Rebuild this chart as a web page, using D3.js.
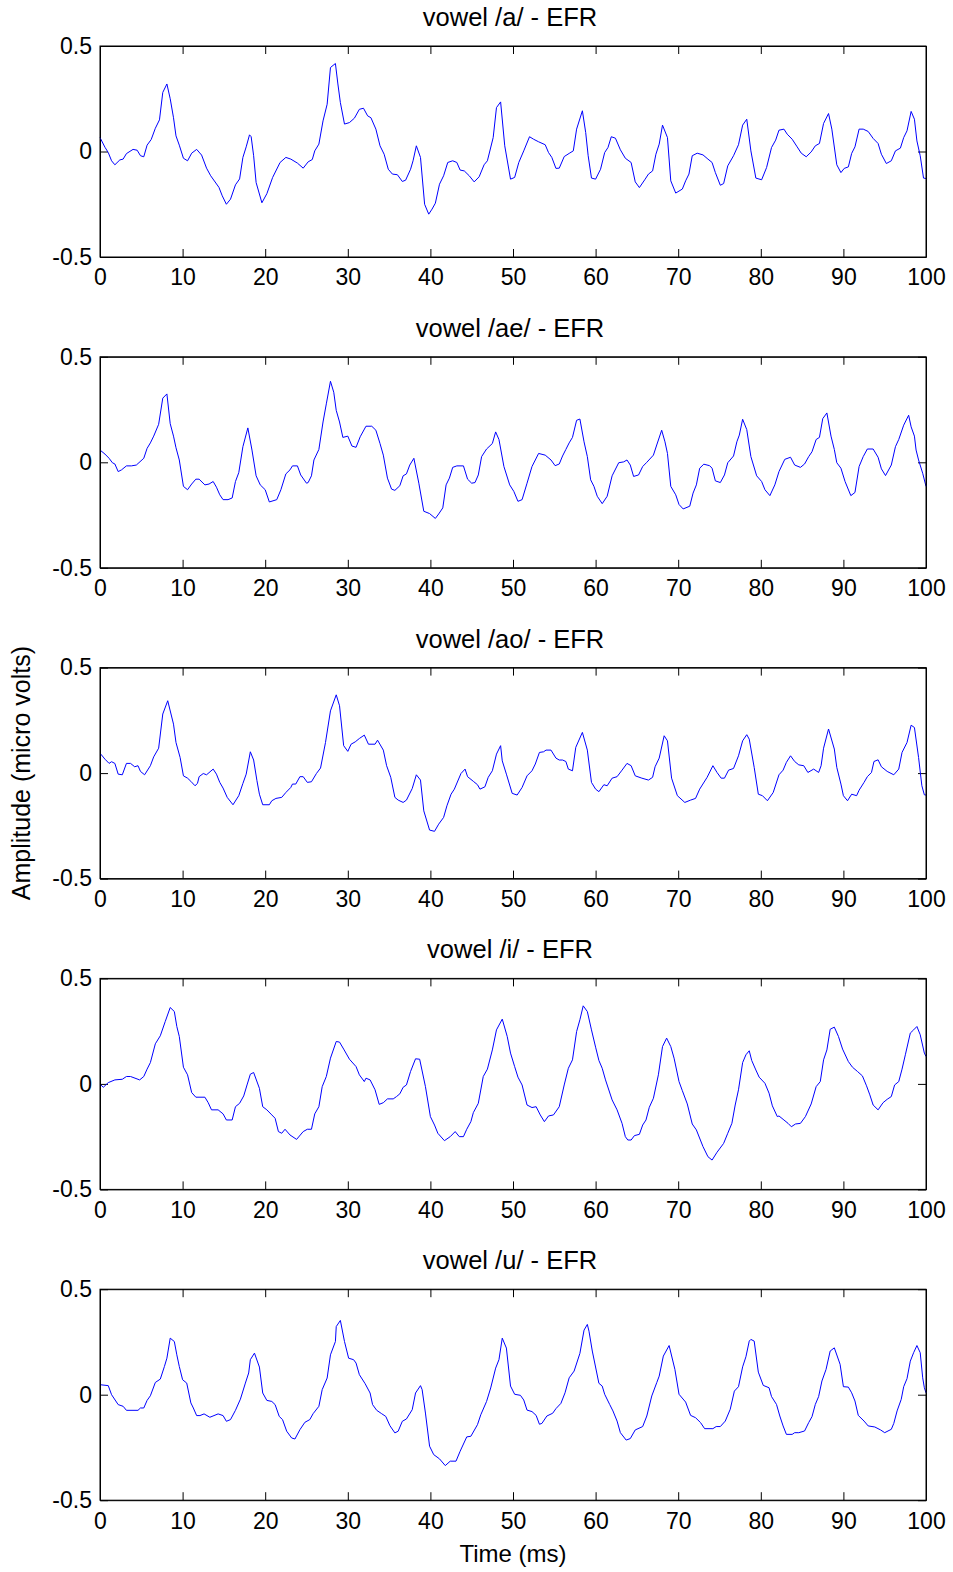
<!DOCTYPE html>
<html lang="en">
<head>
<meta charset="UTF-8">
<title>EFR</title>
<script src="https://d3js.org/d3.v7.min.js"></script>
<style>
    body { margin: 0; background: #fff; }
    text { font-family: "Liberation Sans", Arial, sans-serif; }
</style>
</head>
<body>
<div id="chart"></div>
<script>
    // panel titles and ticks
    var titles = ["vowel /a/ - EFR", "vowel /ae/ - EFR", "vowel /ao/ - EFR", "vowel /i/ - EFR", "vowel /u/ - EFR"];
    var xTicks = [0, 10, 20, 30, 40, 50, 60, 70, 80, 90, 100];
    var yTicks = [-0.5, 0, 0.5];

    // [time (ms), amplitude (micro volts)]
    var vowelA = [[0,.066],[0.6,.02],[1.0,-.005],[1.4,-.044],[1.8,-.063],[2.4,-.04],[2.8,-.036],[3.2,-.01],[4.0,.01],[4.5,.006],[4.9,-.02],[5.3,-.025],[5.7,.03],[6.2,.057],[6.7,.11],[7.2,.15],[7.6,.28],[8.1,.32],[8.5,.25],[8.9,.16],[9.2,.074],[9.6,.03],[10.1,-.032],[10.6,-.044],[11.1,-.008],[11.7,.01],[12.3,-.017],[12.9,-.079],[13.4,-.115],[14.4,-.17],[14.8,-.21],[15.3,-.25],[15.8,-.226],[16.4,-.158],[16.9,-.13],[17.3,-.028],[17.7,.022],[18.1,.079],[18.3,.07],[18.6,-.02],[18.9,-.147],[19.6,-.243],[20.2,-.2],[20.9,-.123],[21.8,-.052],[22.5,-.028],[23.1,-.036],[23.9,-.055],[24.6,-.079],[25.2,-.049],[25.7,-.038],[26.0,.003],[26.5,.035],[27.0,.145],[27.5,.224],[27.9,.398],[28.5,.417],[28.8,.32],[29.1,.232],[29.6,.13],[30.2,.137],[30.8,.158],[31.4,.2],[31.9,.205],[32.4,.169],[32.8,.16],[33.4,.106],[33.9,.027],[34.4,-.013],[34.9,-.084],[35.4,-.107],[36.0,-.11],[36.6,-.142],[37.0,-.136],[37.6,-.084],[37.9,-.044],[38.3,.027],[38.8,-.028],[39.3,-.25],[39.8,-.297],[40.2,-.273],[40.6,-.245],[41.1,-.155],[41.6,-.115],[42.1,-.052],[42.7,-.044],[43.2,-.052],[43.6,-.088],[44.1,-.092],[44.7,-.115],[45.3,-.144],[45.9,-.12],[46.5,-.063],[46.9,-.044],[47.6,.066],[48.0,.208],[48.5,.235],[49.0,.027],
        [49.7,-.131],[50.2,-.123],[50.7,-.052],[51.3,.003],[52.0,.07],[52.5,.058],[53.1,.046],[53.9,.032],[54.3,-.005],[54.7,-.028],[55.2,-.08],[55.6,-.079],[56.2,-.024],[56.8,-.009],[57.3,.003],[57.7,.106],[58.4,.193],[58.8,.09],[59.1,-.02],[59.5,-.126],[60.0,-.131],[60.6,-.084],[61.1,-.005],[61.5,.019],[61.9,.07],[62.4,.063],[63.0,.008],[63.6,-.032],[64.3,-.052],[64.8,-.144],[65.3,-.171],[66.0,-.131],[66.4,-.107],[66.9,-.092],[67.3,-.013],[67.7,.035],[68.1,.125],[68.7,.066],[69.1,-.139],[69.7,-.197],[70.5,-.178],[70.9,-.139],[71.3,-.107],[71.7,-.02],[72.3,-.008],[73.0,-.016],[73.6,-.036],[74.1,-.052],[74.5,-.1],[75.1,-.16],[75.5,-.152],[76.0,-.068],[76.7,-.02],[77.3,.032],[77.8,.125],[78.3,.153],[78.8,.003],[79.4,-.126],[80.1,-.134],[80.7,-.076],[81.3,.019],[81.8,.054],[82.2,.101],[82.8,.106],[83.2,.082],[83.8,.058],[84.4,.022],[84.9,-.008],[85.5,-.025],[86.1,-.002],[86.6,.027],[87.1,.038],[87.6,.133],[88.2,.18],[88.6,.106],[89.2,-.063],[89.7,-.1],[90.1,-.08],[90.6,-.073],[91.0,-.009],[91.4,.022],[91.9,.106],[92.4,.106],[93.0,.095],[93.6,.062],[94.2,.038],[94.6,-.013],[95.2,-.057],[95.8,-.044],[96.3,.003],[96.9,.016],[97.3,.066],[97.7,.098],[98.2,.19],[98.6,.153],[98.9,.05],[99.3,-.02],[99.7,-.126],[100,-.128]];

    var vowelAE = [[0.1,.055],[0.6,.039],[1.1,.019],[1.5,-.002],[1.8,-.008],[2.2,-.044],[2.6,-.036],[3.2,-.017],[3.8,-.017],[4.4,-.013],[5.3,.019],[5.7,.066],[6.1,.092],[6.5,.124],[7.1,.18],[7.6,.304],[8.1,.324],[8.5,.183],[8.9,.124],[9.2,.069],[9.6,.011],[10.1,-.114],[10.6,-.13],[11.1,-.103],[11.6,-.08],[12.0,-.08],[12.7,-.107],[13.2,-.103],[13.7,-.091],[14.1,-.118],[14.5,-.154],[14.9,-.177],[15.5,-.177],[16.0,-.169],[16.4,-.091],[16.8,-.049],[17.3,.074],[17.9,.163],[18.4,.058],[18.9,-.064],[19.4,-.107],[20.0,-.13],[20.5,-.188],[21.4,-.177],[21.9,-.13],[22.5,-.055],[23.0,-.036],[23.3,-.017],[23.9,-.017],[24.3,-.06],[25.0,-.099],[25.2,-.096],[25.6,-.064],[25.9,.011],[26.5,.061],[27.0,.191],[27.4,.277],[27.9,.384],[28.3,.332],[28.6,.246],[29.0,.191],[29.4,.118],[30.0,.124],[30.5,.077],[31.0,.071],[31.5,.121],[32.2,.171],[32.9,.171],[33.4,.152],[33.9,.089],[34.3,.034],[34.8,-.075],[35.3,-.127],[35.7,-.133],[36.3,-.111],[36.7,-.064],[37.1,-.055],[37.5,-.013],[38.0,.019],[38.6,-.099],[39.2,-.232],[39.9,-.243],[40.6,-.266],[41.0,-.245],[41.5,-.216],[41.9,-.107],[42.3,-.075],[42.7,-.024],[43.2,-.017],[44.0,-.017],[44.5,-.08],[45.0,-.099],[45.4,-.096],[45.8,-.06],[46.2,.027],[46.8,.063],[47.5,.089],[47.9,.144],[48.3,.108],[48.9,-.02],
        [49.6,-.107],[50.1,-.138],[50.6,-.185],[51.1,-.177],[51.7,-.099],[52.3,-.02],[53.1,.042],[53.9,.034],[54.6,.011],[55.1,-.016],[55.6,-.008],[56.0,.03],[56.4,.061],[56.8,.092],[57.2,.118],[57.7,.199],[58.1,.205],[58.6,.097],[59.0,.027],[59.4,-.083],[59.8,-.114],[60.2,-.161],[60.8,-.196],[61.4,-.161],[62.0,-.064],[62.8,-.002],[63.4,.002],[63.8,.011],[64.2,-.013],[64.6,-.067],[65.2,-.06],[65.7,-.02],[66.2,0],[67.0,.034],[67.4,.082],[68.0,.152],[68.4,.097],[68.7,.042],[69.1,-.114],[69.7,-.154],[70.1,-.2],[70.6,-.221],[71.4,-.208],[71.8,-.146],[72.2,-.107],[72.6,-.028],[73.1,-.009],[73.8,-.016],[74.1,-.028],[74.5,-.088],[75.1,-.096],[75.6,-.06],[76.0,-.002],[76.7,.03],[77.1,.097],[77.4,.129],[77.8,.204],[78.3,.155],[78.8,.027],[79.5,-.064],[80.1,-.091],[80.5,-.13],[81.1,-.158],[81.7,-.107],[82.2,-.044],[82.9,.014],[83.6,.024],[84.1,-.013],[84.8,-.024],[85.3,-.008],[85.8,.027],[86.2,.05],[86.7,.108],[87.1,.118],[87.5,.207],[88.0,.234],[88.5,.124],[88.9,.061],[89.2,-.002],[89.7,-.028],[90.2,-.091],[90.9,-.158],[91.4,-.143],[91.9,-.02],[92.4,.027],[92.9,.063],[93.6,.063],[94.2,.024],[94.6,-.031],[95.1,-.063],[95.8,-.013],[96.3,.074],[96.7,.108],[97.3,.176],[97.9,.223],[98.2,.168],[98.6,.124],[98.8,.058],[99.1,.011],[99.6,-.052],[100,-.114]];

    var vowelAO = [[0.1,.09],[0.6,.066],[1.1,.046],[1.4,.054],[1.8,.046],[2.2,-.005],[2.7,-.008],[3.2,.046],[3.7,.046],[4.2,.03],[4.6,.035],[4.9,.008],[5.4,-.008],[6.1,.035],[6.5,.077],[7.1,.118],[7.6,.28],[8.2,.343],[8.9,.232],[9.2,.145],[9.7,.074],[10.1,-.013],[10.6,-.024],[11.0,-.039],[11.5,-.06],[11.8,-.049],[12.0,-.017],[12.5,-.002],[12.9,-.008],[13.7,.019],[14.1,-.005],[14.5,-.044],[14.9,-.071],[15.4,-.115],[16.1,-.15],[16.8,-.107],[17.3,-.049],[17.7,-.005],[18.2,.101],[18.6,.062],[19.0,-.036],[19.3,-.1],[19.7,-.15],[20.5,-.15],[20.8,-.131],[21.3,-.12],[22.0,-.115],[22.5,-.092],[23.1,-.068],[23.3,-.052],[23.7,-.052],[24.2,-.017],[24.6,-.017],[25.1,-.044],[25.6,-.041],[26.2,-.002],[26.7,.024],[27.3,.145],[27.9,.295],[28.6,.371],[29.0,.319],[29.5,.13],[30.0,.103],[30.4,.137],[30.9,.148],[31.4,.164],[32.0,.18],[32.5,.137],[33.3,.137],[33.6,.156],[34.3,.109],[34.7,.035],[35.2,-.02],[35.7,-.115],[36.1,-.128],[36.7,-.139],[37.1,-.128],[37.8,-.073],[38.3,-.008],[38.8,-.033],[39.2,-.179],[39.9,-.27],[40.5,-.276],[41.0,-.242],[41.6,-.21],[42.0,-.155],[42.5,-.1],[42.9,-.076],[43.7,-.002],[44.2,.019],[44.5,-.017],[45.2,-.039],[45.7,-.055],[46.0,-.076],[46.6,-.065],[47.0,-.02],[47.5,.011],[48.0,.09],[48.5,.13],[48.7,.058],[49.2,-.005],
        [49.9,-.096],[50.5,-.104],[51.1,-.068],[51.7,-.013],[52.3,.011],[52.7,.043],[53.2,.098],[53.7,.101],[54.0,.109],[54.6,.109],[55.2,.071],[55.6,.062],[56.0,.062],[56.4,.055],[56.7,.019],[57.2,.011],[57.6,.122],[58.4,.193],[59.0,.109],[59.5,-.044],[60.0,-.076],[60.4,-.088],[61.0,-.055],[61.4,-.06],[62.0,-.024],[62.6,-.017],[63.2,.014],[63.8,.046],[64.3,.035],[64.8,-.013],[65.6,-.024],[66.4,-.033],[66.9,-.02],[67.2,.03],[67.7,.071],[68.3,.177],[68.7,.153],[69.2,-.024],[69.9,-.107],[70.8,-.139],[71.5,-.128],[72.1,-.12],[72.6,-.076],[73.5,-.02],[74.2,.035],[74.7,.003],[75.2,-.024],[75.6,-.024],[76.1,.014],[76.7,.022],[77.3,.082],[77.8,.153],[78.3,.182],[78.6,.161],[79.2,.027],[79.7,-.1],[80.2,-.107],[80.8,-.131],[81.5,-.092],[82.2,-.008],[82.7,.014],[83.1,.051],[83.6,.082],[84.1,.055],[84.6,.039],[85.2,.035],[85.7,.003],[86.4,.019],[87.0,.003],[87.3,.035],[87.6,.118],[88.2,.209],[88.9,.114],[89.2,.027],[89.7,-.052],[90.0,-.107],[90.5,-.131],[91.0,-.1],[91.6,-.107],[91.9,-.081],[92.5,-.044],[92.9,-.017],[93.4,.003],[93.7,.055],[94.2,.063],[94.6,.03],[95.3,.008],[96.1,-.008],[96.7,.019],[97.1,.098],[97.7,.145],[98.2,.227],[98.6,.216],[99.1,.074],[99.5,-.06],[99.8,-.103],[100,-.104]];

    var vowelI = [[0.1,-.005],[0.4,-.016],[1.0,.006],[1.8,.019],[2.7,.022],[3.2,.035],[3.7,.035],[4.8,.019],[5.3,.035],[5.7,.07],[6.1,.101],[6.7,.19],[7.3,.228],[7.9,.296],[8.5,.362],[9.0,.343],[9.3,.272],[9.6,.225],[10.1,.079],[10.6,.043],[11.1,-.041],[11.6,-.063],[12.7,-.063],[13.1,-.089],[13.5,-.123],[14.3,-.123],[14.9,-.142],[15.3,-.171],[16.0,-.171],[16.4,-.108],[16.9,-.092],[17.4,-.057],[17.8,-.005],[18.2,.046],[18.6,.054],[19.3,-.021],[19.7,-.108],[20.2,-.123],[20.8,-.147],[21.2,-.163],[21.6,-.226],[22.0,-.234],[22.4,-.215],[23.0,-.242],[23.8,-.263],[24.6,-.226],[25.1,-.215],[25.6,-.215],[26.0,-.142],[26.5,-.108],[26.9,-.013],[27.4,.035],[27.9,.122],[28.6,.201],[29.0,.198],[29.5,.165],[30.2,.117],[31.0,.082],[31.4,.043],[32.0,.011],[32.2,.027],[32.7,.019],[33.3,-.028],[33.8,-.097],[34.3,-.089],[34.8,-.071],[35.5,-.071],[35.9,-.06],[36.3,-.047],[36.7,-.016],[37.1,-.005],[37.6,.059],[38.2,.119],[38.7,.117],[39.4,-.013],[40.0,-.155],[40.5,-.195],[40.9,-.234],[41.7,-.269],[42.4,-.25],[43.0,-.226],[43.5,-.25],[44.0,-.25],[44.4,-.215],[44.9,-.179],[45.2,-.136],[45.8,-.092],[46.4,.035],[46.9,.07],[47.5,.161],[48.0,.256],[48.7,.307],[49.3,.225],
        [49.7,.146],[50.2,.082],[50.6,.032],[51.1,-.005],[51.7,-.1],[52.3,-.112],[52.8,-.108],[53.3,-.147],[53.8,-.179],[54.3,-.152],[54.9,-.147],[55.6,-.108],[56.2,-.005],[56.7,.074],[57.2,.114],[57.7,.248],[58.1,.304],[58.5,.37],[59.0,.343],[59.5,.256],[60.0,.174],[60.4,.111],[60.8,.074],[61.2,.019],[62.0,-.076],[62.6,-.123],[63.2,-.187],[63.6,-.25],[63.9,-.266],[64.3,-.266],[64.7,-.245],[65.3,-.239],[65.7,-.195],[66.1,-.171],[66.5,-.111],[67.0,-.068],[67.6,.043],[68.1,.177],[68.6,.217],[69.1,.177],[69.5,.122],[70.1,.011],[70.5,-.032],[71.1,-.095],[71.7,-.19],[72.2,-.218],[73.0,-.297],[73.6,-.345],[74.1,-.361],[74.7,-.324],[75.5,-.282],[76.0,-.234],[76.5,-.187],[76.9,-.1],[77.3,-.028],[77.8,.101],[78.2,.138],[78.6,.157],[78.9,.111],[79.4,.066],[79.8,.032],[80.5,.003],[81.0,-.044],[81.4,-.104],[82.0,-.155],[82.2,-.152],[82.8,-.171],[83.3,-.187],[83.7,-.203],[84.2,-.19],[84.8,-.187],[85.4,-.155],[86.1,-.095],[86.7,-.013],[87.2,.011],[87.6,.114],[88.0,.161],[88.4,.259],[88.9,.269],[89.4,.225],[89.9,.165],[90.6,.106],[91.1,.079],[91.7,.059],[92.3,.038],[92.8,-.009],[93.2,-.052],[93.6,-.1],[94.2,-.123],[94.8,-.089],[95.3,-.073],[95.8,-.06],[96.2,-.005],[96.7,.011],[97.1,.07],[97.5,.138],[98.1,.241],[98.5,.256],[98.9,.272],[99.3,.233],[99.8,.146],[100,.13]];

    var vowelU = [[0.1,.047],[1.0,.043],[1.4,0],[2.2,-.047],[2.8,-.055],[3.2,-.074],[4.6,-.074],[4.9,-.063],[5.3,-.063],[5.7,-.027],[6.1,-.005],[6.7,.058],[7.3,.074],[7.8,.134],[8.1,.173],[8.5,.268],[9.0,.252],[9.3,.189],[9.6,.134],[10.0,.071],[10.5,.055],[11.0,-.039],[11.3,-.063],[11.7,-.099],[12.1,-.099],[12.6,-.091],[13.3,-.107],[13.8,-.099],[14.3,-.091],[14.9,-.099],[15.3,-.126],[15.8,-.118],[16.4,-.074],[17.0,-.021],[17.6,.055],[18.0,.103],[18.2,.166],[18.7,.197],[19.3,.131],[19.7,.008],[20.2,-.027],[20.8,-.032],[21.2,-.047],[21.7,-.103],[22.1,-.118],[22.6,-.173],[23.2,-.205],[23.6,-.21],[24.2,-.166],[24.8,-.131],[25.4,-.118],[25.8,-.09],[26.5,-.055],[26.9,.024],[27.5,.079],[27.9,.189],[28.5,.252],[28.6,.323],[29.1,.352],[29.6,.252],[30.1,.173],[30.7,.166],[31.0,.15],[31.4,.095],[32.1,.052],[32.7,.008],[33.0,-.047],[33.5,-.074],[34.1,-.09],[34.6,-.103],[35.1,-.147],[35.7,-.181],[36.1,-.173],[36.6,-.126],[37.1,-.115],[37.8,-.071],[38.2,.008],[38.8,.043],[39.0,.024],[39.4,-.087],[39.9,-.244],[40.4,-.284],[41.1,-.304],[41.8,-.336],[42.4,-.315],[43.1,-.315],[43.6,-.268],[44.4,-.2],[44.9,-.197],[45.7,-.142],[46.1,-.095],[46.8,-.032],[47.3,.032],[47.9,.126],[48.3,.166],[48.7,.268],[49.2,.221],
        [49.7,.041],[50.2,.002],[50.9,-.003],[51.3,-.025],[51.7,-.073],[52.3,-.08],[52.8,-.098],[53.2,-.14],[53.5,-.136],[54.1,-.101],[54.8,-.088],[55.2,-.066],[55.8,-.041],[56.3,.009],[56.8,.08],[57.4,.112],[58.1,.196],[58.6,.306],[59.0,.333],[59.2,.301],[59.6,.207],[60.4,.054],[60.8,.041],[61.1,.002],[61.7,-.046],[62.1,-.077],[62.6,-.125],[63.0,-.18],[63.7,-.215],[64.2,-.208],[64.8,-.167],[65.7,-.151],[66.2,-.101],[66.8,-.006],[67.4,.057],[67.7,.088],[68.2,.183],[68.9,.233],[69.6,.12],[70.1,.002],[70.9,-.035],[71.5,-.098],[72.1,-.109],[72.7,-.132],[73.2,-.161],[74.2,-.161],[74.6,-.151],[75.1,-.151],[75.7,-.125],[76.3,-.069],[76.8,.017],[77.3,.038],[77.8,.132],[78.2,.18],[78.6,.254],[78.8,.262],[79.2,.254],[79.7,.107],[80.3,.044],[81.0,.033],[81.3,-.009],[81.9,-.046],[82.3,-.101],[82.7,-.148],[83.1,-.188],[83.8,-.188],[84.1,-.18],[84.6,-.18],[85.3,-.172],[85.8,-.132],[86.2,-.104],[86.6,-.046],[87.0,-.009],[87.4,.065],[87.9,.12],[88.4,.207],[88.9,.222],[89.6,.144],[90.0,.038],[90.6,.036],[91.0,.009],[91.4,-.03],[91.8,-.098],[92.5,-.125],[93.0,-.148],[93.8,-.153],[94.5,-.167],[95.0,-.18],[95.8,-.164],[96.1,-.136],[96.5,-.077],[97.0,-.022],[97.3,.038],[97.7,.076],[98.1,.159],[98.5,.199],[98.9,.233],[99.3,.199],[99.6,.08],[99.8,.033],[100,.009]];

    var series = [vowelA, vowelAE, vowelAO, vowelI, vowelU];

    var w = 953,
        h = 1572,
        left = 100,
        pw = 826,
        ph = 211,
        top0 = 46,
        step = 310.8;

    var svg = d3.select("#chart").append("svg")
        .attr("width", w)
        .attr("height", h)
        .style("background", "#fff");

    var x = d3.scaleLinear().domain([0, 100]).range([0, pw]);
    var y = d3.scaleLinear().domain([-0.5, 0.5]).range([ph, 0]);

    var line = d3.line()
        .x(function(d) { return x(d[0]); })
        .y(function(d) { return y(d[1]); });

    series.forEach(function(data, i) {
        var g = svg.append("g")
            .attr("transform", "translate(" + left + "," + (top0 + i * step) + ")");

        // ticks on all four sides, pointing inward like matlab
        g.append("g").attr("class", "ax")
            .attr("transform", "translate(0," + ph + ")")
            .call(d3.axisBottom(x).tickValues(xTicks).tickSizeInner(-8).tickSizeOuter(0).tickPadding(12));
        g.append("g").attr("class", "ax")
            .call(d3.axisTop(x).tickValues(xTicks).tickSizeInner(-8).tickSizeOuter(0).tickFormat(""));
        g.append("g").attr("class", "ax")
            .call(d3.axisLeft(y).tickValues(yTicks).tickSizeInner(-8).tickSizeOuter(0).tickPadding(8)
                .tickFormat(function(d) { return String(d); }));
        g.append("g").attr("class", "ax")
            .attr("transform", "translate(" + pw + ",0)")
            .call(d3.axisRight(y).tickValues(yTicks).tickSizeInner(-8).tickSizeOuter(0).tickFormat(""));

        g.append("path")
            .datum(data)
            .attr("d", line)
            .attr("fill", "none")
            .attr("stroke", "#0000ff")
            .attr("stroke-width", 1);

        g.append("rect")
            .attr("width", pw)
            .attr("height", ph)
            .attr("fill", "none")
            .attr("stroke", "#000")
            .attr("stroke-width", 1);

        g.append("text")
            .attr("x", pw / 2 - 3)
            .attr("y", -20)
            .attr("text-anchor", "middle")
            .attr("font-size", 25.5)
            .text(titles[i]);
    });

    svg.selectAll(".ax").attr("font-family", null).attr("font-size", null);
    svg.selectAll(".ax .domain").attr("stroke", "#000");
    svg.selectAll(".ax line").attr("stroke", "#000");
    svg.selectAll(".ax text").attr("fill", "#000").style("font-size", "23px");

    // axis labels
    svg.append("text")
        .attr("transform", "translate(30," + (top0 + 2 * step + ph / 2) + ") rotate(-90)")
        .attr("text-anchor", "middle")
        .attr("font-size", 25)
        .text("Amplitude (micro volts)");

    svg.append("text")
        .attr("x", left + pw / 2)
        .attr("y", 1562)
        .attr("text-anchor", "middle")
        .attr("font-size", 24)
        .text("Time (ms)");
</script>
</body>
</html>
